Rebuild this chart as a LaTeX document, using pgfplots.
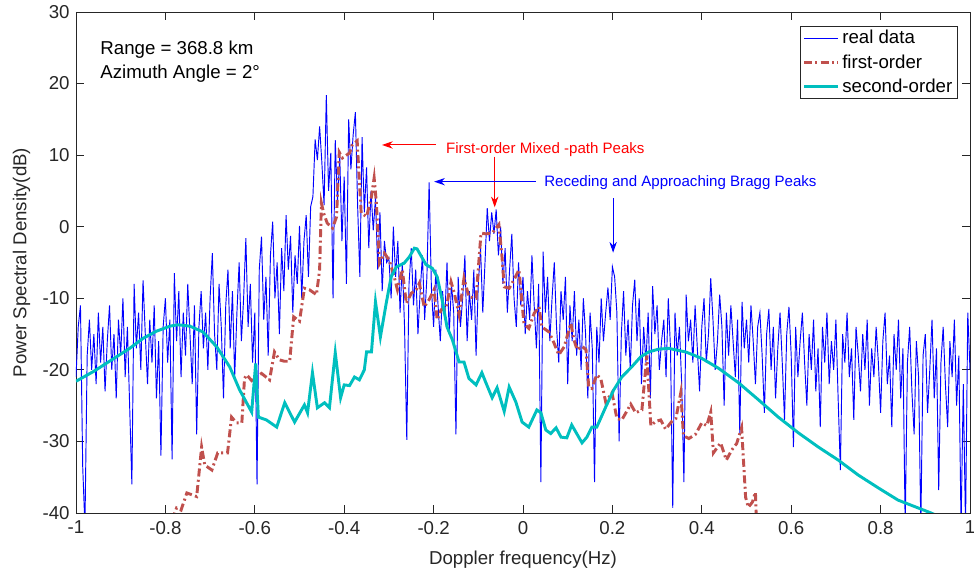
\documentclass[border=0pt]{standalone}
\usepackage{pgfplots}
\pgfplotsset{compat=1.18}
\usepackage{pgfplotstable}
\usepackage{fontspec}
\setmainfont{Liberation Sans}
\usetikzlibrary{arrows.meta}
\definecolor{realblue}{RGB}{0,0,255}
\definecolor{firstred}{RGB}{192,80,77}
\definecolor{secondcyan}{RGB}{0,191,191}
\definecolor{axgray}{RGB}{38,38,38}

\pgfplotstableread{
x y
-1.000 -21
-0.995 -14
-0.990 -11
-0.985 -33.5
-0.980 -42
-0.975 -18
-0.970 -13
-0.965 -20
-0.960 -15
-0.955 -22
-0.950 -12
-0.945 -19
-0.940 -14
-0.935 -23
-0.930 -16
-0.925 -11
-0.920 -20
-0.915 -15
-0.910 -24
-0.905 -13
-0.900 -18
-0.895 -10
-0.890 -21
-0.885 -14
-0.880 -25
-0.875 -36
-0.870 -8
-0.865 -17
-0.860 -12
-0.855 -20
-0.850 -7.5
-0.845 -15
-0.840 -22
-0.835 -13
-0.830 -19
-0.825 -11
-0.820 -24
-0.815 -16
-0.810 -32
-0.805 -14
-0.800 -10
-0.795 -19
-0.790 -13
-0.785 -32.5
-0.780 -6.5
-0.775 -16
-0.770 -9
-0.765 -21
-0.760 -12
-0.755 -18
-0.750 -8
-0.745 -15
-0.740 -22
-0.735 -11
-0.730 -29
-0.725 -14
-0.720 -9
-0.715 -17
-0.710 -12
-0.705 -20
-0.700 -10
-0.695 -3.7
-0.690 -15
-0.685 -20
-0.680 -8
-0.675 -14
-0.670 -24
-0.665 -11
-0.660 -6
-0.655 -17
-0.650 -9
-0.645 -21
-0.640 -12
-0.635 -5
-0.630 -16
-0.625 -10
-0.620 -1.6
-0.615 -14
-0.610 -8
-0.605 -19
-0.600 -12
-0.595 -36
-0.590 -6
-0.585 -1.4
-0.580 -13
-0.575 -7
-0.570 -18
-0.565 -4
-0.560 0.7
-0.555 -10
-0.550 -5
-0.545 -15
-0.540 -3
-0.535 -9
-0.530 1.6
-0.525 -6
-0.520 -1.3
-0.515 -12
-0.510 -4
-0.505 -8
-0.500 0.1
-0.495 -10
-0.490 -2
-0.485 1.6
-0.480 -7
-0.475 2.8
-0.470 4.2
-0.465 12.2
-0.460 9.3
-0.455 14
-0.450 9
-0.445 3
-0.440 18.4
-0.435 5
-0.430 10.3
-0.425 -10
-0.420 12.1
-0.415 3.3
-0.410 10
-0.405 -2
-0.400 7
-0.395 -8
-0.390 15
-0.385 8
-0.380 12.8
-0.375 16
-0.370 3
-0.365 -7
-0.360 12.5
-0.355 2
-0.350 8.3
-0.345 -3
-0.340 5
-0.335 -0.5
-0.330 4
-0.325 -6
-0.320 2
-0.315 -9
-0.310 -2
-0.305 -5
-0.300 -4.4
-0.295 -10
-0.290 0
-0.285 -7
-0.280 -2
-0.275 -12
-0.270 -5
-0.265 -14
-0.260 -29.8
-0.255 -8
-0.250 -3
-0.245 -11
-0.240 -6
-0.235 -15
-0.230 -9
-0.225 -4
-0.220 -13
-0.215 -7
-0.210 6.2
-0.205 -8.4
-0.200 -14
-0.195 -6
-0.190 -11
-0.185 -16
-0.180 -9
-0.175 -13
-0.170 -5
-0.165 -15
-0.160 -8
-0.155 -12
-0.150 -29
-0.145 -7
-0.140 -14
-0.135 -10
-0.130 -4
-0.125 -16
-0.120 -9
-0.115 -13
-0.110 -6
-0.105 -18
-0.100 -8
-0.095 -3
-0.090 -12
-0.085 -5
-0.080 2.6
-0.075 -2
-0.070 2
-0.065 -1
-0.060 2.4
-0.055 -4
-0.050 0
-0.045 -8
-0.040 -3
-0.035 -12
-0.030 -6
-0.025 -1
-0.020 -10
-0.015 -14
-0.010 -5
-0.005 -11
0.000 -7
0.005 -15
0.010 -9
0.015 -13
0.020 -4
0.025 -11
0.030 -17
0.035 -8
0.040 -35.7
0.045 -3.5
0.050 -12
0.055 -7
0.060 -16
0.065 -10
0.070 -5
0.075 -14
0.080 -19
0.085 -9
0.090 -13
0.095 -7
0.100 -22
0.105 -11
0.110 -16
0.115 -9
0.120 -18
0.125 -13
0.130 -20
0.135 -10
0.140 -15
0.145 -24
0.150 -12
0.155 -17
0.160 -35.7
0.165 -14
0.170 -19
0.175 -10
0.180 -16
0.185 -12
0.190 -8.5
0.195 -13
0.200 -5.6
0.205 -7
0.210 -12
0.215 -30
0.220 -15
0.225 -9
0.230 -18
0.235 -13
0.240 -20
0.245 -11
0.250 -7.4
0.255 -16
0.260 -10
0.265 -22
0.270 -14
0.275 -19
0.280 -12
0.285 -24
0.290 -8.3
0.295 -15
0.300 -11
0.305 -20
0.310 -16
0.315 -13
0.320 -21
0.325 -10
0.330 -17
0.335 -39.3
0.340 -12
0.345 -18
0.350 -14
0.355 -22
0.360 -35.7
0.365 -9.5
0.370 -16
0.375 -13
0.380 -19
0.385 -11
0.390 -17
0.395 -23
0.400 -14
0.405 -10
0.410 -19
0.415 -15
0.420 -7.2
0.425 -13
0.430 -20
0.435 -16
0.440 -9.5
0.445 -14
0.450 -25
0.455 -12
0.460 -18
0.465 -11
0.470 -16
0.475 -21
0.480 -13
0.485 -29
0.490 -10.5
0.495 -17
0.500 -13
0.505 -19
0.510 -11
0.515 -16
0.520 -22
0.525 -14
0.530 -12
0.535 -18
0.540 -26
0.545 -15
0.550 -11.5
0.555 -20
0.560 -14
0.565 -24
0.570 -17
0.575 -12
0.580 -19
0.585 -27
0.590 -15
0.595 -11.2
0.600 -18
0.605 -30.8
0.610 -14
0.615 -21
0.620 -16
0.625 -12
0.630 -19
0.635 -25
0.640 -15
0.645 -20
0.650 -13
0.655 -23
0.660 -17
0.665 -28
0.670 -14
0.675 -19
0.680 -12
0.685 -22
0.690 -16
0.695 -20
0.700 -13
0.705 -24
0.710 -34
0.715 -15
0.720 -19
0.725 -12
0.730 -21
0.735 -17
0.740 -27
0.745 -14
0.750 -18
0.755 -23
0.760 -15
0.765 -20
0.770 -13
0.775 -25
0.780 -17
0.785 -21
0.790 -14
0.795 -19
0.800 -26
0.805 -16
0.810 -12
0.815 -22
0.820 -18
0.825 -28
0.830 -15
0.835 -20
0.840 -13
0.845 -24
0.850 -17
0.855 -42
0.860 -19
0.865 -14
0.870 -23
0.875 -29
0.880 -16
0.885 -21
0.890 -42
0.895 -18
0.900 -15
0.905 -26
0.910 -20
0.915 -13
0.920 -24
0.925 -17
0.930 -36.8
0.935 -19
0.940 -14
0.945 -22
0.950 -28
0.955 -16
0.960 -21
0.965 -13
0.970 -25
0.975 -18
0.980 -42
0.985 -22
0.990 -42
0.995 -12
1.000 -20
}\realdata

\pgfplotstableread{
x y
-0.785 -41
-0.775 -39.3
-0.765 -39.6
-0.752 -37.2
-0.730 -37.7
-0.719 -30.8
-0.712 -33.3
-0.696 -34
-0.683 -31.6
-0.661 -31.6
-0.652 -26.6
-0.641 -27.4
-0.629 -27.4
-0.623 -21.2
-0.618 -20.7
-0.607 -21.5
-0.596 -21.0
-0.585 -20.5
-0.567 -21.4
-0.556 -17.5
-0.545 -18.6
-0.534 -18.8
-0.522 -18.8
-0.513 -12.6
-0.500 -13.2
-0.489 -8.6
-0.478 -8.8
-0.462 -9.5
-0.455 -6
-0.451 3.3
-0.446 1.9
-0.438 0.5
-0.426 -0.2
-0.417 1.4
-0.415 4.7
-0.411 10.4
-0.404 9.6
-0.388 10.3
-0.382 11.4
-0.371 12
-0.362 1.9
-0.350 1.4
-0.339 4.2
-0.333 6.8
-0.328 3.3
-0.321 -5.1
-0.310 -3.7
-0.299 -4.7
-0.288 -7
-0.281 -8.8
-0.270 -6
-0.261 -10.7
-0.250 -9.3
-0.239 -8.8
-0.232 -7.9
-0.221 -11.2
-0.210 -10.2
-0.199 -8.8
-0.192 -13
-0.183 -11.6
-0.172 -11.5
-0.161 -7.7
-0.154 -9.2
-0.143 -12.3
-0.132 -7.2
-0.121 -9.8
-0.105 -10
-0.094 -0.9
-0.083 -1
-0.069 -0.9
-0.054 0.3
-0.047 -4.2
-0.042 -8.4
-0.031 -8.6
-0.020 -7.4
-0.009 -6.0
0.002 -13.5
0.013 -14.2
0.025 -12.1
0.036 -11.2
0.042 -14
0.058 -14.7
0.069 -16.2
0.080 -17.9
0.092 -16.8
0.107 -13.5
0.114 -15.8
0.121 -17.2
0.132 -16.7
0.141 -17.2
0.147 -22.4
0.154 -22.6
0.165 -20.7
0.174 -21.2
0.185 -24.5
0.199 -23.2
0.210 -26.8
0.221 -27
0.232 -25.8
0.241 -24.8
0.252 -26
0.266 -25.6
0.277 -18
0.286 -27.8
0.297 -27.2
0.308 -27
0.319 -28.3
0.333 -27.2
0.342 -26.8
0.353 -23.2
0.359 -29.2
0.371 -29.6
0.386 -29
0.400 -27.4
0.411 -27.8
0.420 -25.9
0.426 -31.6
0.442 -30.2
0.455 -32.6
0.467 -31.2
0.478 -30.3
0.489 -28.1
0.498 -37.8
0.504 -39.2
0.513 -38.5
0.520 -37.1
0.522 -41
}\firstorder

\pgfplotstableread{
x y
-1.000 -21.6
-0.960 -20.2
-0.920 -18.6
-0.880 -17.0
-0.850 -15.6
-0.820 -14.6
-0.790 -13.9
-0.772 -13.7
-0.745 -13.9
-0.716 -14.7
-0.685 -16.8
-0.656 -19.6
-0.634 -22.8
-0.607 -25.9
-0.598 -19.1
-0.592 -26.6
-0.574 -27.0
-0.551 -28.0
-0.533 -24.6
-0.511 -27.3
-0.489 -24.9
-0.482 -26.0
-0.471 -20.4
-0.460 -25.3
-0.444 -24.6
-0.433 -25.3
-0.420 -17.6
-0.408 -23.9
-0.400 -22.1
-0.388 -22.2
-0.377 -21.0
-0.366 -21.4
-0.355 -20.0
-0.350 -17.5
-0.339 -17.5
-0.330 -10.5
-0.319 -15.4
-0.306 -10.7
-0.295 -7.0
-0.283 -5.6
-0.266 -5.1
-0.254 -4.2
-0.243 -3.0
-0.237 -3.1
-0.217 -5.3
-0.203 -5.8
-0.192 -7.0
-0.181 -10.2
-0.170 -14.0
-0.158 -15.8
-0.143 -18.9
-0.132 -18.9
-0.121 -21.2
-0.105 -22.1
-0.092 -20.4
-0.083 -21.8
-0.069 -23.9
-0.058 -22.5
-0.042 -25.8
-0.031 -22.4
-0.016 -24.5
-0.002 -27.3
0.013 -28.0
0.031 -25.6
0.040 -26.0
0.051 -28.4
0.062 -28.9
0.074 -28.1
0.085 -29.4
0.098 -29.5
0.109 -27.7
0.121 -29.0
0.132 -30.2
0.143 -29.4
0.154 -28.0
0.165 -28.0
0.185 -25.2
0.203 -22.8
0.221 -21.0
0.243 -19.6
0.263 -18.2
0.281 -17.5
0.304 -17.1
0.326 -17.0
0.364 -17.5
0.400 -18.4
0.438 -19.8
0.482 -21.8
0.527 -24.2
0.571 -26.6
0.616 -28.8
0.661 -30.8
0.705 -32.6
0.750 -34.7
0.795 -36.5
0.839 -38.2
0.913 -40.0
0.930 -40.5
}\secondorder

\begin{document}
\begin{tikzpicture}
\begin{axis}[
  name=ax,
  scale only axis,
  width=670.5pt, height=375.75pt,
  xmin=-1, xmax=1, ymin=-40, ymax=30,
  xtick={-1,-0.8,-0.6,-0.4,-0.2,0,0.2,0.4,0.6,0.8,1},
  xticklabels={-1,-0.8,-0.6,-0.4,-0.2,0,0.2,0.4,0.6,0.8,1},
  ytick={-40,-30,-20,-10,0,10,20,30},
  yticklabels={-40,-30,-20,-10,0,10,20,30},
  tick align=inside,
  major tick length=6pt,
  axis line style={axgray, line width=0.6pt},
  every tick/.style={axgray, line width=0.6pt},
  tick label style={font=\fontsize{14}{16}\selectfont, text=axgray},
  xticklabel style={yshift=-2.5pt},
  yticklabel style={xshift=-1.3pt},
  xlabel={Doppler frequency(Hz)},
  ylabel={Power Spectral Density(dB)},
  label style={font=\fontsize{14}{16}\selectfont, text=axgray},
  xlabel style={at={(axis description cs:0.5,-0.066)}, anchor=north},
  ylabel style={at={(axis description cs:-0.0459,0.5)}, anchor=south},
  legend style={at={(axis description cs:0.9866,0.972)}, anchor=north east,
    draw=axgray, line width=0.6pt, font=\fontsize{14}{15.5}\selectfont,
    inner xsep=2pt, inner ysep=1pt, row sep=2.4pt, fill=white},
  legend cell align=left,
  legend image code/.code={\draw[#1] (0cm,0cm) -- (0.9cm,0cm);},
]
\addplot[realblue, line width=0.7pt] table {\realdata};
\addlegendentry{real data}
\addplot[firstred, line width=2.2pt, dash pattern=on 6pt off 2.5pt on 1.5pt off 2.5pt] table {\firstorder};
\addlegendentry{first-order}
\addplot[secondcyan, line width=2.2pt] table {\secondorder};
\addlegendentry{second-order}

\node[anchor=base west, inner sep=0, font=\fontsize{14}{16}\selectfont] at (axis cs:-0.946,24.13) {Range = 368.8 km};
\node[anchor=base west, inner sep=0, font=\fontsize{14}{16}\selectfont] at (axis cs:-0.946,20.64) {Azimuth Angle = 2°};

\draw[red, line width=0.75pt, -{Stealth[length=8pt,width=5.5pt,inset=2.5pt]}] (axis cs:-0.195,11.42) -- (axis cs:-0.3154,11.42);
\node[anchor=base west, inner sep=0, text=red, font=\fontsize{11.3}{13}\selectfont] at (axis cs:-0.1726,10.26) {First-order Mixed -path Peaks};
\draw[red, line width=0.75pt, -{Stealth[length=8pt,width=5.5pt,inset=2.5pt]}] (axis cs:-0.0633,9.78) -- (axis cs:-0.0633,2.71);

\draw[blue, line width=0.75pt, -{Stealth[length=8pt,width=5.5pt,inset=2.5pt]}] (axis cs:0.0283,6.29) -- (axis cs:-0.1987,6.29);
\node[anchor=base west, inner sep=0, text=blue, font=\fontsize{11.3}{13}\selectfont] at (axis cs:0.047,5.59) {Receding and Approaching Bragg Peaks};
\draw[blue, line width=0.75pt, -{Stealth[length=8pt,width=5.5pt,inset=2.5pt]}] (axis cs:0.2016,3.97) -- (axis cs:0.2016,-3.63);
\end{axis}
\pgfresetboundingbox
\path[use as bounding box] ([xshift=-57pt,yshift=-48.75pt]ax.south west) rectangle ([xshift=3pt,yshift=9pt]ax.north east);
\end{tikzpicture}
\end{document}
